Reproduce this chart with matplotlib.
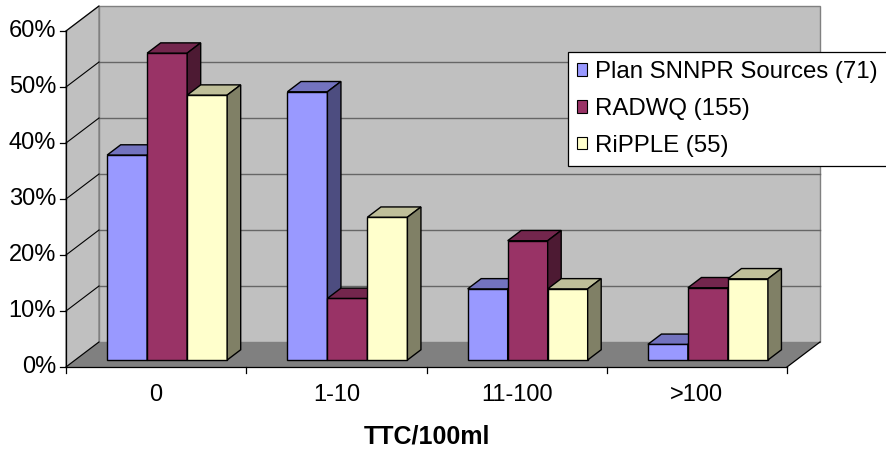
import matplotlib
matplotlib.use("Agg")
import matplotlib.pyplot as plt
from matplotlib.patches import Polygon, Patch

plt.rcParams["font.family"] = ["Liberation Sans", "DejaVu Sans"]

categories = ["0", "1-10", "11-100", ">100"]
series_names = ["Plan SNNPR Sources (71)", "RADWQ (155)", "RiPPLE (55)"]
plan_snnpr = [36.6, 47.9, 12.7, 2.8]
radwq = [54.8, 11.0, 21.3, 12.9]
ripple = [47.3, 25.5, 12.7, 14.5]
yticks = [0, 10, 20, 30, 40, 50, 60]
xlabel = "TTC/100ml"

front = ["#9999FF", "#993366", "#FFFFCC"]
top = ["#7373BF", "#73264D", "#BFBF99"]
side = ["#4D4D80", "#4D1A33", "#808066"]

W, H = 886, 449
fig = plt.figure(figsize=(W / 100, H / 100), dpi=100)
# front plane of the 3d box
ax = fig.add_axes([66 / W, (H - 367) / H, 721 / W, 336 / H])
ax.set_xlim(0, 4)
ax.set_ylim(0, 60)
ax.axis("off")

DX = 33 / 721 * 4      # depth offset in x data units
DY = 25 / 336 * 60     # depth offset in y data units
n = len(categories)
px_x = 4 / 721
px_y = 60 / 336

def poly(pts, fc, ec="none", lw=0.9, z=1):
    ax.add_patch(Polygon(pts, closed=True, facecolor=fc, edgecolor=ec,
                         linewidth=lw, zorder=z, clip_on=False))

# walls and floor
poly([(DX, DY), (n + DX, DY), (n + DX, 60 + DY), (DX, 60 + DY)], "#C0C0C0", "#808080", 1.0, 0)
poly([(0, 0), (DX, DY), (DX, 60 + DY), (0, 60)], "#C0C0C0", "#808080", 1.0, 0)
poly([(0, 0), (n, 0), (n + DX, DY), (DX, DY)], "#808080", "none", 1.0, 0.5)
for k in yticks[1:-1]:
    ax.plot([DX, n + DX], [k + DY, k + DY], color="#666666", lw=1.0, zorder=0.6, clip_on=False)
for k in yticks:
    ax.plot([0, DX], [k, k + DY], color="black", lw=0.8, zorder=0.6, clip_on=False)

# axes lines and ticks
ax.plot([0, 0], [0, 60], color="black", lw=0.9, zorder=3, clip_on=False)
ax.plot([0, n], [0, 0], color="black", lw=0.9, zorder=3, clip_on=False)
ax.plot([n, n + DX], [0, DY], color="black", lw=0.9, zorder=3, clip_on=False)
for k in yticks:
    ax.plot([-6 * px_x, 0], [k, k], color="black", lw=0.9, clip_on=False)
    ax.text(-10 * px_x, k, f"{k}%", ha="right", va="center", fontsize=17)
for i in range(n + 1):
    ax.plot([i, i], [0, -6 * px_y], color="black", lw=0.9, clip_on=False)
for i, c in enumerate(categories):
    ax.text(i + 0.5, -28 * px_y, c, ha="center", va="center", fontsize=17)
ax.text(2.0, -70 * px_y, xlabel, ha="center", va="center", fontsize=18, fontweight="bold")

# 3d bars
f0 = 0.28
bd = 0.41
w = 40 / 180.25
gap = (1 - 3 * w) / 2 + 0.01
data = [plan_snnpr, radwq, ripple]
for i in range(n):
    for j, vals in enumerate(data):
        v = vals[i]
        x = i + gap + f0 * DX + j * w
        y0 = f0 * DY
        z = 2 + i * 0.1 + j * 0.01
        poly([(x, y0), (x + w, y0), (x + w, y0 + v), (x, y0 + v)], front[j], "black", 1.0, z)
        poly([(x, y0 + v), (x + w, y0 + v), (x + w + bd * DX, y0 + v + bd * DY),
              (x + bd * DX, y0 + v + bd * DY)], top[j], "black", 1.0, z)
        poly([(x + w, y0), (x + w, y0 + v), (x + w + bd * DX, y0 + v + bd * DY),
              (x + w + bd * DX, y0 + bd * DY)], side[j], "black", 1.0, z)

handles = [Patch(facecolor=front[j], edgecolor="black", linewidth=0.8) for j in range(3)]
leg = fig.legend(handles, series_names, loc="upper left",
                 bbox_to_anchor=(568 / W, 1 - 52 / H), fontsize=17.3,
                 handlelength=0.4, handleheight=0.4, handletextpad=0.35,
                 labelspacing=0.62, borderpad=0.38, borderaxespad=0,
                 frameon=True, fancybox=False, framealpha=1)
leg.get_frame().set_edgecolor("black")
leg.get_frame().set_linewidth(0.9)
leg.set_zorder(10)

fig.savefig("out.png", dpi=100)
